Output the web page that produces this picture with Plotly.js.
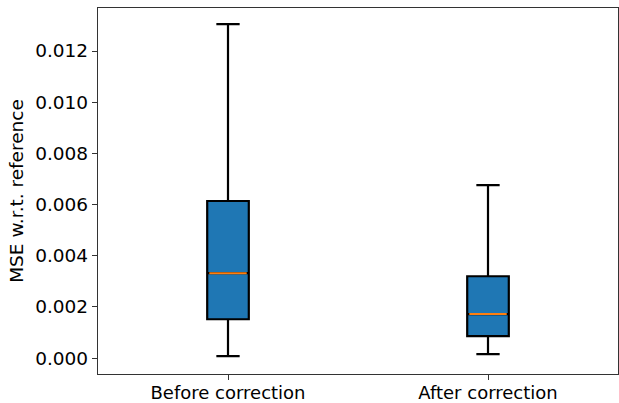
<!DOCTYPE html>
<html>
<head>
<meta charset="utf-8">
<script src="https://cdn.plot.ly/plotly-3.0.1.min.js"></script>
<style>html,body{margin:0;padding:0;background:#fff;}#chart{width:619px;height:403px;}</style>
</head>
<body>
<div id="chart"></div>
<script>
const categories = ["Before correction", "After correction"];
const positions = [1, 2];
const lowerWhisker = [0.00008, 0.00016];
const q1Values = [0.00152, 0.00086];
const medians = [0.00332, 0.00172];
const q3Values = [0.00614, 0.00320];
const upperWhisker = [0.01305, 0.00676];
const yTicks = [0, 0.002, 0.004, 0.006, 0.008, 0.010, 0.012];

const boxWidth = 0.16;

const boxes = {
  type: 'box',
  x: positions,
  q1: q1Values,
  median: medians,
  q3: q3Values,
  lowerfence: lowerWhisker,
  upperfence: upperWhisker,
  width: boxWidth,
  whiskerwidth: 0.56,
  fillcolor: '#1f77b4',
  line: {color: '#000000', width: 2.2},
  boxpoints: false,
  showlegend: false,
  hoverinfo: 'skip'
};

const medianLines = {
  type: 'box',
  x: positions,
  q1: medians,
  median: medians,
  q3: medians,
  lowerfence: medians,
  upperfence: medians,
  width: boxWidth * 0.9,
  whiskerwidth: 0,
  fillcolor: 'rgba(0,0,0,0)',
  line: {color: '#ff7f0e', width: 2},
  boxpoints: false,
  showlegend: false,
  hoverinfo: 'skip'
};

const layout = {
  width: 619,
  height: 403,
  margin: {l: 98, r: 1, t: 8, b: 29},
  paper_bgcolor: '#ffffff',
  plot_bgcolor: '#ffffff',
  boxmode: 'overlay',
  font: {family: 'DejaVu Sans', color: '#000000', size: 18.5},
  xaxis: {
    range: [0.5, 2.5],
    tickvals: positions,
    ticktext: categories,
    ticks: 'outside',
    ticklen: 5,
    tickwidth: 1,
    tickcolor: '#333333',
    ticklabelstandoff: -3,
    showgrid: false,
    zeroline: false,
    showline: true,
    linecolor: '#333333',
    linewidth: 1.2,
    mirror: true,
    tickfont: {size: 18}
  },
  yaxis: {
    range: [-0.00062, 0.01368],
    tickvals: yTicks,
    tickformat: '.3f',
    ticks: 'outside',
    ticklen: 5,
    tickwidth: 1,
    tickcolor: '#333333',
    showgrid: false,
    zeroline: false,
    showline: true,
    linecolor: '#333333',
    linewidth: 1.2,
    mirror: true,
    tickfont: {size: 18.5},
    title: {text: 'MSE w.r.t. reference', font: {size: 18.5}, standoff: 6}
  }
};

Plotly.newPlot('chart', [boxes, medianLines], layout, {staticPlot: true, displayModeBar: false});
</script>
</body>
</html>
